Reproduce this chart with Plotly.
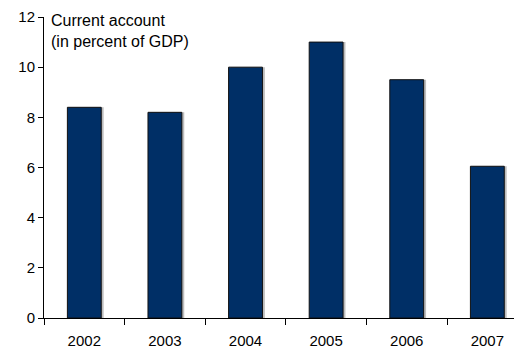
import plotly.graph_objects as go

years = ["2002", "2003", "2004", "2005", "2006", "2007"]
current_account = [8.4, 8.2, 10.0, 11.0, 9.5, 6.05]
y_ticks = [0, 2, 4, 6, 8, 10, 12]

bar_color = "#002F66"
bar_w = 0.42

fig = go.Figure()
# subtle shadow behind bars
fig.add_trace(go.Bar(
    x=years, y=current_account, width=bar_w, offset=-bar_w / 2 + 0.03,
    marker=dict(color="#BDBDBD", line=dict(width=0)),
    hoverinfo="skip", showlegend=False,
))
fig.add_trace(go.Bar(
    x=years, y=current_account, width=bar_w, offset=-bar_w / 2,
    marker=dict(color=bar_color, line=dict(color="#111111", width=1)),
    showlegend=False,
))

# page body has an 8px margin; size the figure to fill the rest of the window
fig.update_layout(
    width=514, height=342,
    margin=dict(l=36, r=0, t=9, b=32, autoexpand=False),
    barmode="overlay",
    paper_bgcolor="white", plot_bgcolor="white",
    font=dict(family="Liberation Sans, Arial, sans-serif", size=15, color="#000000"),
    annotations=[dict(
        text="Current account<br>(in percent of GDP)",
        xref="paper", yref="paper", x=0.01, y=1.0, yshift=7,
        xanchor="left", yanchor="top", align="left", showarrow=False,
        font=dict(size=16, color="#000000"),
    )],
)
fig.update_xaxes(
    type="category", range=[-0.5, 5.43], automargin=False,
    showline=True, linecolor="#000000", linewidth=1,
    ticks="outside", tickson="boundaries", ticklen=6, tickcolor="#000000",
    ticklabelstandoff=9,
    showgrid=False, zeroline=False,
)
fig.update_yaxes(
    range=[0, 12], tickvals=y_ticks, automargin=False,
    showline=True, linecolor="#000000", linewidth=1,
    ticks="outside", ticklen=5, tickcolor="#000000",
    showgrid=False, zeroline=False,
)

fig.write_html("out.html")
